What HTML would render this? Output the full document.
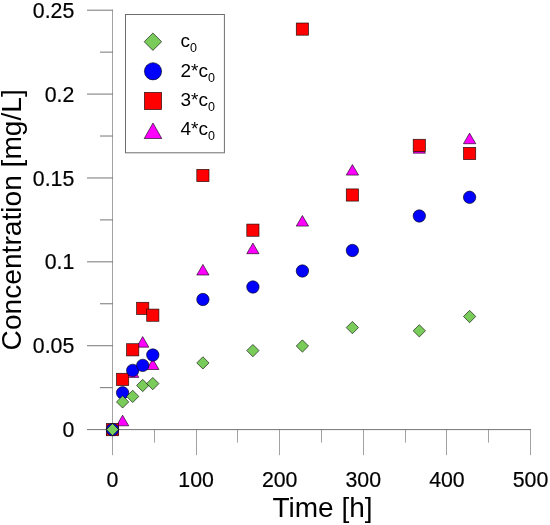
<!DOCTYPE html>
<html><head><meta charset="utf-8"><title>Concentration vs Time</title>
<style>
html,body{margin:0;padding:0;background:#fff;}
svg{display:block;}
text{font-family:"Liberation Sans",sans-serif;fill:#000;}
</style></head><body>
<svg width="550" height="525" viewBox="0 0 550 525">
<rect width="550" height="525" fill="#fff"/>
<g stroke="#a2a2a2" stroke-width="1" fill="none">
<line x1="112.5" y1="9.7" x2="112.5" y2="455.20000000000005"/>
<line x1="154.50" y1="429.6" x2="154.50" y2="442.6"/>
<line x1="196.50" y1="429.6" x2="196.50" y2="455.20000000000005"/>
<line x1="237.50" y1="429.6" x2="237.50" y2="442.6"/>
<line x1="279.50" y1="429.6" x2="279.50" y2="455.20000000000005"/>
<line x1="321.50" y1="429.6" x2="321.50" y2="442.6"/>
<line x1="363.50" y1="429.6" x2="363.50" y2="455.20000000000005"/>
<line x1="405.50" y1="429.6" x2="405.50" y2="442.6"/>
<line x1="446.50" y1="429.6" x2="446.50" y2="455.20000000000005"/>
<line x1="488.50" y1="429.6" x2="488.50" y2="442.6"/>
<line x1="530.50" y1="429.6" x2="530.50" y2="455.20000000000005"/>
</g>
<g stroke="#767676" stroke-width="1" fill="none">
<line x1="87.0" y1="429.6" x2="531.0" y2="429.6"/>
<line x1="100.0" y1="387.66" x2="112.9" y2="387.66"/>
<line x1="87.0" y1="345.72" x2="112.9" y2="345.72"/>
<line x1="100.0" y1="303.78" x2="112.9" y2="303.78"/>
<line x1="87.0" y1="261.84" x2="112.9" y2="261.84"/>
<line x1="100.0" y1="219.90" x2="112.9" y2="219.90"/>
<line x1="87.0" y1="177.96" x2="112.9" y2="177.96"/>
<line x1="100.0" y1="136.02" x2="112.9" y2="136.02"/>
<line x1="87.0" y1="94.08" x2="112.9" y2="94.08"/>
<line x1="100.0" y1="52.14" x2="112.9" y2="52.14"/>
<line x1="87.0" y1="10.20" x2="112.9" y2="10.20"/>
</g>
<g font-size="21.3" text-anchor="end" stroke="#000" stroke-width="0.2">
<text x="74.3" y="437.20">0</text>
<text x="74.3" y="353.32">0.05</text>
<text x="74.3" y="269.44">0.1</text>
<text x="74.3" y="185.56">0.15</text>
<text x="74.3" y="101.68">0.2</text>
<text x="74.3" y="17.80">0.25</text>
</g>
<g font-size="21.3" text-anchor="middle" stroke="#000" stroke-width="0.2">
<text x="112.50" y="487.2">0</text>
<text x="196.10" y="487.2">100</text>
<text x="279.70" y="487.2">200</text>
<text x="363.30" y="487.2">300</text>
<text x="446.90" y="487.2">400</text>
<text x="530.50" y="487.2">500</text>
</g>
<text x="322.5" y="517.4" font-size="28" text-anchor="middle">Time [h]</text>
<text transform="translate(21,219.8) rotate(-90)" font-size="28.15" text-anchor="middle">Concentration [mg/L]</text>
<rect x="125.5" y="14.5" width="98.9" height="138.3" fill="#fff" stroke="#6e6e6e" stroke-width="1"/>
<g>
<polygon points="112.50,424.20 118.65,434.80 106.35,434.80" fill="#ff00ff" stroke="#000" stroke-opacity="0.8" stroke-width="0.75"/>
<polygon points="122.60,415.20 128.75,425.80 116.45,425.80" fill="#ff00ff" stroke="#000" stroke-opacity="0.8" stroke-width="0.75"/>
<polygon points="132.70,366.80 138.85,377.40 126.55,377.40" fill="#ff00ff" stroke="#000" stroke-opacity="0.8" stroke-width="0.75"/>
<polygon points="142.70,336.60 148.85,347.20 136.55,347.20" fill="#ff00ff" stroke="#000" stroke-opacity="0.8" stroke-width="0.75"/>
<polygon points="152.80,358.90 158.95,369.50 146.65,369.50" fill="#ff00ff" stroke="#000" stroke-opacity="0.8" stroke-width="0.75"/>
<polygon points="202.90,264.40 209.05,275.00 196.75,275.00" fill="#ff00ff" stroke="#000" stroke-opacity="0.8" stroke-width="0.75"/>
<polygon points="252.90,243.10 259.05,253.70 246.75,253.70" fill="#ff00ff" stroke="#000" stroke-opacity="0.8" stroke-width="0.75"/>
<polygon points="302.40,215.50 308.55,226.10 296.25,226.10" fill="#ff00ff" stroke="#000" stroke-opacity="0.8" stroke-width="0.75"/>
<polygon points="352.40,164.50 358.55,175.10 346.25,175.10" fill="#ff00ff" stroke="#000" stroke-opacity="0.8" stroke-width="0.75"/>
<polygon points="419.30,142.60 425.45,153.20 413.15,153.20" fill="#ff00ff" stroke="#000" stroke-opacity="0.8" stroke-width="0.75"/>
<polygon points="469.60,133.10 475.75,143.70 463.45,143.70" fill="#ff00ff" stroke="#000" stroke-opacity="0.8" stroke-width="0.75"/>
<rect x="106.40" y="423.50" width="12.20" height="12.20" fill="#ff0000" stroke="#000" stroke-opacity="0.8" stroke-width="0.75"/>
<rect x="116.50" y="373.30" width="12.20" height="12.20" fill="#ff0000" stroke="#000" stroke-opacity="0.8" stroke-width="0.75"/>
<rect x="126.60" y="343.70" width="12.20" height="12.20" fill="#ff0000" stroke="#000" stroke-opacity="0.8" stroke-width="0.75"/>
<rect x="136.60" y="302.30" width="12.20" height="12.20" fill="#ff0000" stroke="#000" stroke-opacity="0.8" stroke-width="0.75"/>
<rect x="146.70" y="309.10" width="12.20" height="12.20" fill="#ff0000" stroke="#000" stroke-opacity="0.8" stroke-width="0.75"/>
<rect x="196.80" y="169.40" width="12.20" height="12.20" fill="#ff0000" stroke="#000" stroke-opacity="0.8" stroke-width="0.75"/>
<rect x="246.80" y="224.10" width="12.20" height="12.20" fill="#ff0000" stroke="#000" stroke-opacity="0.8" stroke-width="0.75"/>
<rect x="296.30" y="23.00" width="12.20" height="12.20" fill="#ff0000" stroke="#000" stroke-opacity="0.8" stroke-width="0.75"/>
<rect x="346.30" y="188.90" width="12.20" height="12.20" fill="#ff0000" stroke="#000" stroke-opacity="0.8" stroke-width="0.75"/>
<rect x="413.20" y="139.30" width="12.20" height="12.20" fill="#ff0000" stroke="#000" stroke-opacity="0.8" stroke-width="0.75"/>
<rect x="463.50" y="147.40" width="12.20" height="12.20" fill="#ff0000" stroke="#000" stroke-opacity="0.8" stroke-width="0.75"/>
<circle cx="112.50" cy="429.60" r="6.20" fill="#0000ff" stroke="#000" stroke-opacity="0.8" stroke-width="0.75"/>
<circle cx="122.60" cy="392.80" r="6.20" fill="#0000ff" stroke="#000" stroke-opacity="0.8" stroke-width="0.75"/>
<circle cx="132.70" cy="370.40" r="6.20" fill="#0000ff" stroke="#000" stroke-opacity="0.8" stroke-width="0.75"/>
<circle cx="142.70" cy="365.40" r="6.20" fill="#0000ff" stroke="#000" stroke-opacity="0.8" stroke-width="0.75"/>
<circle cx="152.80" cy="355.00" r="6.20" fill="#0000ff" stroke="#000" stroke-opacity="0.8" stroke-width="0.75"/>
<circle cx="202.90" cy="299.50" r="6.20" fill="#0000ff" stroke="#000" stroke-opacity="0.8" stroke-width="0.75"/>
<circle cx="252.90" cy="287.00" r="6.20" fill="#0000ff" stroke="#000" stroke-opacity="0.8" stroke-width="0.75"/>
<circle cx="302.40" cy="271.00" r="6.20" fill="#0000ff" stroke="#000" stroke-opacity="0.8" stroke-width="0.75"/>
<circle cx="352.40" cy="250.50" r="6.20" fill="#0000ff" stroke="#000" stroke-opacity="0.8" stroke-width="0.75"/>
<circle cx="419.30" cy="216.00" r="6.20" fill="#0000ff" stroke="#000" stroke-opacity="0.8" stroke-width="0.75"/>
<circle cx="469.60" cy="197.30" r="6.20" fill="#0000ff" stroke="#000" stroke-opacity="0.8" stroke-width="0.75"/>
<polygon points="106.35,429.60 112.50,423.45 118.65,429.60 112.50,435.75" fill="#79cc5a" stroke="#000" stroke-opacity="0.8" stroke-width="0.75"/>
<polygon points="116.45,401.90 122.60,395.75 128.75,401.90 122.60,408.05" fill="#79cc5a" stroke="#000" stroke-opacity="0.8" stroke-width="0.75"/>
<polygon points="126.55,396.40 132.70,390.25 138.85,396.40 132.70,402.55" fill="#79cc5a" stroke="#000" stroke-opacity="0.8" stroke-width="0.75"/>
<polygon points="136.55,385.50 142.70,379.35 148.85,385.50 142.70,391.65" fill="#79cc5a" stroke="#000" stroke-opacity="0.8" stroke-width="0.75"/>
<polygon points="146.65,383.60 152.80,377.45 158.95,383.60 152.80,389.75" fill="#79cc5a" stroke="#000" stroke-opacity="0.8" stroke-width="0.75"/>
<polygon points="196.75,362.90 202.90,356.75 209.05,362.90 202.90,369.05" fill="#79cc5a" stroke="#000" stroke-opacity="0.8" stroke-width="0.75"/>
<polygon points="246.75,350.60 252.90,344.45 259.05,350.60 252.90,356.75" fill="#79cc5a" stroke="#000" stroke-opacity="0.8" stroke-width="0.75"/>
<polygon points="296.25,346.00 302.40,339.85 308.55,346.00 302.40,352.15" fill="#79cc5a" stroke="#000" stroke-opacity="0.8" stroke-width="0.75"/>
<polygon points="346.25,327.60 352.40,321.45 358.55,327.60 352.40,333.75" fill="#79cc5a" stroke="#000" stroke-opacity="0.8" stroke-width="0.75"/>
<polygon points="413.15,330.80 419.30,324.65 425.45,330.80 419.30,336.95" fill="#79cc5a" stroke="#000" stroke-opacity="0.8" stroke-width="0.75"/>
<polygon points="463.45,316.50 469.60,310.35 475.75,316.50 469.60,322.65" fill="#79cc5a" stroke="#000" stroke-opacity="0.8" stroke-width="0.75"/>
</g>
<polygon points="144.20,41.70 152.90,33.00 161.60,41.70 152.90,50.40" fill="#79cc5a" stroke="#000" stroke-opacity="0.8" stroke-width="0.75"/>
<circle cx="153.00" cy="71.30" r="8.60" fill="#0000ff" stroke="#000" stroke-opacity="0.8" stroke-width="0.75"/>
<rect x="144.40" y="92.40" width="17.20" height="17.20" fill="#ff0000" stroke="#000" stroke-opacity="0.8" stroke-width="0.75"/>
<polygon points="153.00,123.00 161.80,138.50 144.20,138.50" fill="#ff00ff" stroke="#000" stroke-opacity="0.8" stroke-width="0.75"/>
<text x="180.5" y="47.30" font-size="19">c<tspan font-size="12.5" dy="5">0</tspan></text>
<text x="180.5" y="76.60" font-size="19">2*c<tspan font-size="12.5" dy="5">0</tspan></text>
<text x="180.5" y="105.90" font-size="19">3*c<tspan font-size="12.5" dy="5">0</tspan></text>
<text x="180.5" y="135.20" font-size="19">4*c<tspan font-size="12.5" dy="5">0</tspan></text>
</svg>
</body></html>
